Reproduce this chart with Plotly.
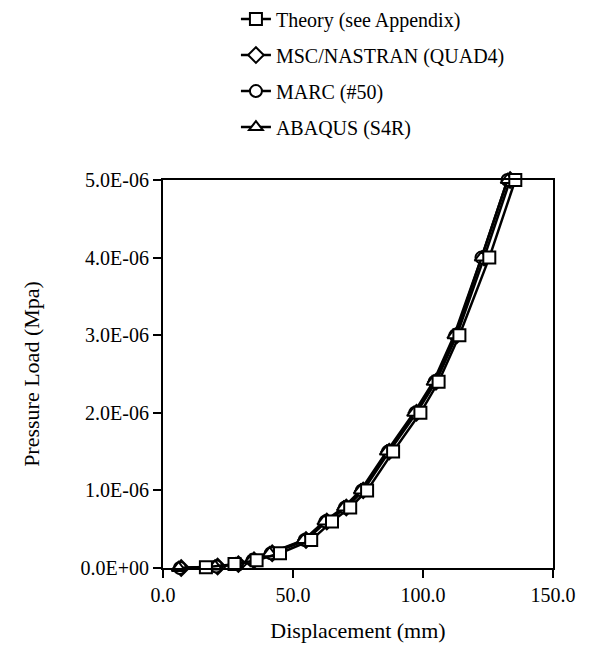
import plotly.graph_objects as go

# ---- data ----
theory_disp = [16.5, 27.5, 36, 45, 57, 65, 72, 78.5, 88.5, 99, 106, 114, 125.5, 135.5]
theory_load = [0.01e-6, 0.05e-6, 0.10e-6, 0.19e-6, 0.36e-6, 0.60e-6, 0.78e-6, 1.0e-6,
               1.5e-6, 2.0e-6, 2.4e-6, 3.0e-6, 4.0e-6, 5.0e-6]

fe_load = [0.0, 0.02e-6, 0.05e-6, 0.10e-6, 0.19e-6, 0.36e-6, 0.60e-6, 0.78e-6, 1.0e-6,
           1.5e-6, 2.0e-6, 2.4e-6, 3.0e-6, 4.0e-6, 5.0e-6]
msc_disp = [7, 21, 29, 35, 42, 55, 63, 70.5, 77, 87, 97.5, 105, 113, 123.5, 133.5]
marc_disp = [6.5, 20.5, 28.5, 34.5, 41.5, 54.5, 62.5, 70, 76.5, 86.5, 97, 104.5, 112.5, 122.5, 132.5]
abaqus_disp = [6, 20, 28, 34, 41, 54, 62, 69.5, 76, 86, 96.5, 104, 112, 122.5, 132.5]

names = ["Theory (see Appendix)", "MSC/NASTRAN (QUAD4)", "MARC (#50)", "ABAQUS (S4R)"]

y_tickvals = [0, 1e-6, 2e-6, 3e-6, 4e-6, 5e-6]
y_ticktext = ["0.0E+00", "1.0E-06", "2.0E-06", "3.0E-06", "4.0E-06", "5.0E-06"]
x_tickvals = [0, 50, 100, 150]
x_ticktext = ["0.0", "50.0", "100.0", "150.0"]

FONT = "Liberation Serif, Times New Roman, serif"

fig = go.Figure()

def add(x, y, name, symbol, rank):
    fig.add_trace(go.Scatter(
        x=x, y=y, name=name, mode="lines+markers",
        line=dict(color="black", width=2.5),
        marker=dict(symbol=symbol, size=12, color="white",
                    line=dict(color="black", width=2)),
        legendgroup=name, legendrank=rank, cliponaxis=False,
    ))

add(msc_disp, fe_load, names[1], "diamond", 2)
add(marc_disp, fe_load, names[2], "circle", 3)
add(abaqus_disp, fe_load, names[3], "triangle-up", 4)
add(theory_disp, theory_load, names[0], "square", 1)

fig.update_layout(
    width=581, height=659,
    paper_bgcolor="white", plot_bgcolor="white",
    margin=dict(l=155, r=36, t=172, b=99, autoexpand=False),
    font=dict(family=FONT, size=20, color="black"),
    showlegend=True,
    legend=dict(
        x=0.187, y=1.465, xanchor="left", yanchor="top",
        font=dict(family=FONT, size=20, color="black"),
        tracegroupgap=7, bgcolor="rgba(0,0,0,0)",
    ),
    xaxis=dict(
        range=[0, 150], tickvals=x_tickvals, ticktext=x_ticktext,
        ticks="outside", ticklen=8, tickwidth=2, tickcolor="black",
        showline=True, linecolor="black", linewidth=2, mirror=True,
        showgrid=False, zeroline=False, tickangle=0,
        tickfont=dict(family=FONT, size=20),
        title=dict(text="Displacement (mm)", font=dict(family=FONT, size=22), standoff=18),
    ),
    yaxis=dict(
        range=[0, 5e-6], tickvals=y_tickvals, ticktext=y_ticktext,
        ticks="outside", ticklen=8, tickwidth=2, tickcolor="black",
        showline=True, linecolor="black", linewidth=2, mirror=True,
        showgrid=False, zeroline=False,
        tickfont=dict(family=FONT, size=20),
        title=dict(text="Pressure Load (Mpa)", font=dict(family=FONT, size=22), standoff=35),
    ),
)

fig.write_html("out.html")
